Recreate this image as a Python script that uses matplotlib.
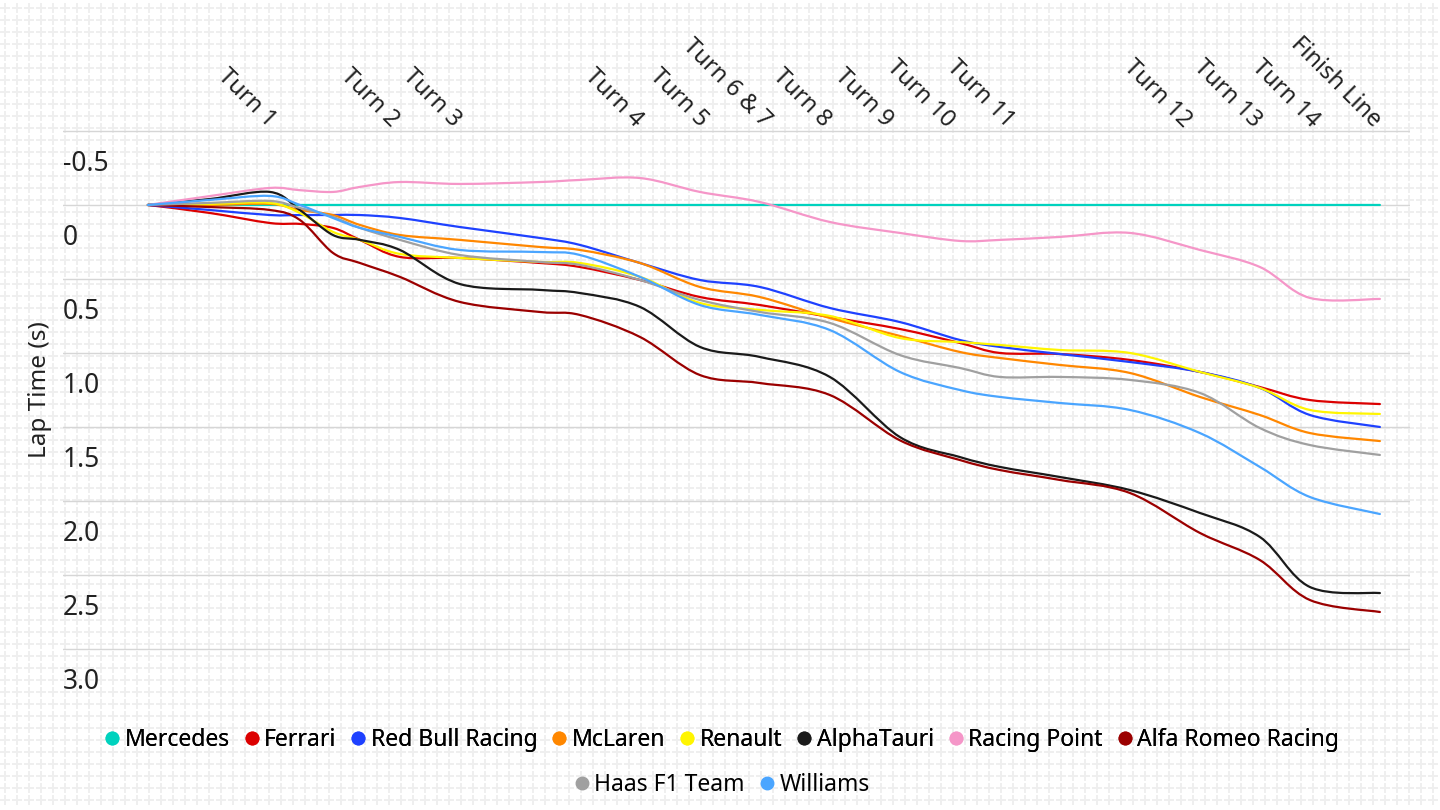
import numpy as np
import matplotlib.pyplot as plt
import matplotlib.transforms as mtransforms
from matplotlib.path import Path
from matplotlib.patches import PathPatch
from matplotlib.lines import Line2D

# distance along the lap (m)
dist = [0, 220, 434, 540, 658, 754, 896, 1109, 1394, 1536, 1750, 1963, 2176,
        2425, 2674, 2887, 3030, 3243, 3492, 3741, 3954, 4132, 4381]

# gap to Mercedes (s)
mercedes = [0] * 23
ferrari = [0, .054, .122, .128, .155, .236, .351, .358, .392, .419, .507, .622, .676,
           .757, .838, .932, 1.0, 1.007, 1.047, 1.128, 1.23, 1.318, 1.345]
red_bull = [0, .034, .068, .068, .068, .068, .088, .149, .223, .27, .392, .507, .554,
            .696, .791, .912, .959, 1.007, 1.061, 1.128, 1.236, 1.419, 1.5]
mclaren = [0, 0, -.007, .034, .068, .135, .203, .236, .284, .304, .392, .554, .622,
           .764, .885, .993, 1.034, 1.081, 1.135, 1.297, 1.419, 1.541, 1.595]
renault = [0, -.007, -.014, .054, .182, .236, .331, .358, .385, .392, .486, .662, .709,
           .75, .899, .926, .946, .98, 1.0, 1.128, 1.236, 1.385, 1.412]
alphatauri = [0, -.04, -.088, .034, .203, .236, .304, .534, .574, .595, .689, .959, 1.027,
              1.162, 1.568, 1.703, 1.77, 1.838, 1.926, 2.081, 2.243, 2.581, 2.622]
racing_point = [0, -.06, -.115, -.10, -.088, -.122, -.155, -.142, -.155, -.169, -.182, -.088, -.02,
                .115, .189, .243, .236, .216, .189, .304, .419, .628, .635]
alfa_romeo = [0, .014, .034, .101, .324, .392, .486, .655, .723, .743, .892, 1.149, 1.203,
              1.284, 1.59, 1.723, 1.791, 1.858, 1.946, 2.216, 2.399, 2.669, 2.75]
haas = [0, -.014, -.027, .02, .081, .155, .236, .338, .385, .405, .507, .642, .723,
        .797, 1.014, 1.101, 1.162, 1.162, 1.182, 1.27, 1.507, 1.622, 1.689]
williams = [0, -.034, -.061, 0, .088, .155, .216, .304, .318, .338, .486, .676, .743,
            .845, 1.128, 1.25, 1.297, 1.338, 1.385, 1.541, 1.77, 1.973, 2.088]

teams = ["Mercedes", "Ferrari", "Red Bull Racing", "McLaren", "Renault", "AlphaTauri",
         "Racing Point", "Alfa Romeo Racing", "Haas F1 Team", "Williams"]
series = [mercedes, ferrari, red_bull, mclaren, renault, alphatauri,
          racing_point, alfa_romeo, haas, williams]
colors = ["#00d2be", "#dc0000", "#1e41ff", "#ff8700", "#fff500", "#1a1a1a",
          "#f596c8", "#9b0000", "#a0a0a0", "#4aa5ff"]

turn_labels = ["Turn 1", "Turn 2", "Turn 3", "Turn 4", "Turn 5", "Turn 6 & 7", "Turn 8",
               "Turn 9", "Turn 10", "Turn 11", "Turn 12", "Turn 13", "Turn 14", "Finish Line"]
turn_dist = [452, 889, 1109, 1757, 1988, 2212, 2425, 2646, 2863, 3076, 3705, 3954, 4161, 4381]

y_ticks = [-0.5, 0, 0.5, 1.0, 1.5, 2.0, 2.5, 3.0]
y_tick_labels = ["-0.5", "0", "0.5", "1.0", "1.5", "2.0", "2.5", "3.0"]

FONT = "Noto Sans"
plt.rcParams['font.family'] = [FONT, 'DejaVu Sans']


def smooth_path(xs, ys):
    # catmull-rom through the points, drawn as cubic beziers
    n = len(xs)
    verts = [(xs[0], ys[0])]
    codes = [Path.MOVETO]
    for i in range(n - 1):
        i0 = max(i - 1, 0)
        i3 = min(i + 2, n - 1)
        c1 = (xs[i] + (xs[i + 1] - xs[i0]) / 6, ys[i] + (ys[i + 1] - ys[i0]) / 6)
        c2 = (xs[i + 1] - (xs[i3] - xs[i]) / 6, ys[i + 1] - (ys[i3] - ys[i]) / 6)
        verts += [c1, c2, (xs[i + 1], ys[i + 1])]
        codes += [Path.CURVE4] * 3
    return Path(verts, codes)


fig = plt.figure(figsize=(14.4, 8.1), dpi=100)
fig.patch.set_facecolor("white")

# "+" pattern in the background
bg = fig.add_axes([0, 0, 1, 1], zorder=0)
gx, gy = np.meshgrid(np.arange(5, 1440, 12), np.arange(8, 810, 12))
bg.scatter(gx.ravel(), gy.ravel(), marker="+", s=55, c="#efefef", linewidths=1.4)
bg.set_xlim(0, 1440)
bg.set_ylim(810, 0)
bg.axis("off")

W, H = 1440, 810
left, right, top, bottom = 63, 1410, 128, 651
ax = fig.add_axes([left / W, 1 - bottom / H, (right - left) / W, (bottom - top) / H], zorder=1)
ax.set_facecolor("none")
ax.set_xlim(-302, 4488)
ax.set_ylim(3.0135, -0.52)
for s in ax.spines.values():
    s.set_visible(False)
ax.set_xticks([])
ax.set_yticks([])

for v in y_ticks:
    ax.axhline(v, color="#d6d6d6", lw=1.0, zorder=1)

lab_tr = mtransforms.blended_transform_factory(ax.transAxes, ax.transData) + \
    mtransforms.ScaledTranslation(0, -0.33, fig.dpi_scale_trans)
for v, t in zip(y_ticks, y_tick_labels):
    ax.text(0, v, t, transform=lab_tr, ha="left", va="center", fontsize=19, color="#222222")

fig.text(40 / W, 1 - 390 / H, "Lap Time (s)", rotation=90, ha="center", va="center",
         fontsize=17.5, color="#222222")

top_tr = mtransforms.blended_transform_factory(ax.transData, ax.transAxes)
for d, t in zip(turn_dist, turn_labels):
    ax.text(d - 25, 1.0, t, transform=top_tr, rotation=-45, rotation_mode="anchor",
            ha="right", va="baseline", fontsize=17, color="#222222")

for vals, c in zip(series, colors):
    patch = PathPatch(smooth_path(dist, vals), fill=False, edgecolor=c, lw=1.6,
                      capstyle="round", zorder=3)
    ax.add_patch(patch)

handles = [Line2D([], [], ls="", marker="o", markersize=9, color=c) for c in colors]
leg1 = fig.legend(handles[:8], teams[:8], loc="center", bbox_to_anchor=(0.5, 1 - 740 / H),
                  ncol=8, frameon=False, fontsize=16.5, handletextpad=0.05,
                  columnspacing=0.45, handlelength=1.0)
fig.legend(handles[8:], teams[8:], loc="center", bbox_to_anchor=(0.5, 1 - 785 / H),
           ncol=2, frameon=False, fontsize=16.5, handletextpad=0.05,
           columnspacing=0.45, handlelength=1.0)
fig.add_artist(leg1)

fig.savefig("out.png", dpi=100, facecolor="white")
